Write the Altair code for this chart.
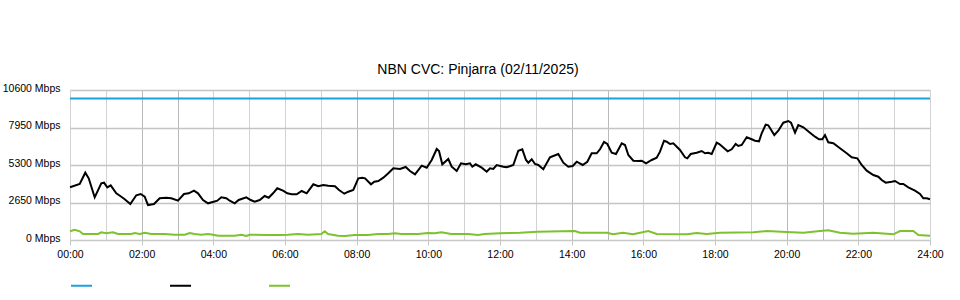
import altair as alt
import pandas as pd

TITLE = "NBN CVC: Pinjarra (02/11/2025)"
SERIES = ["Capacity", "Download", "Upload"]
COLORS = ["#1ea0dc", "#000000", "#7dc22e"]
Y_TICKS = [0, 2650, 5300, 7950, 10600]

capacity_t = [0, 24]
capacity_v = [10000, 10000]

download_t = [0.0, 0.271, 0.427, 0.522, 0.689, 0.873, 0.949, 1.041, 1.136, 1.292,
              1.432, 1.527, 1.683, 1.850, 1.973, 2.085, 2.177, 2.344, 2.503, 2.687,
              2.827, 3.014, 3.181, 3.313, 3.460, 3.572, 3.712, 3.851, 4.010, 4.111,
              4.222, 4.362, 4.457, 4.596, 4.708, 4.920, 5.043, 5.154, 5.294, 5.433,
              5.545, 5.665, 5.785, 5.944, 6.064, 6.187, 6.327, 6.466, 6.606, 6.790,
              6.929, 7.069, 7.208, 7.395, 7.507, 7.655, 7.767, 7.906, 8.046, 8.157,
              8.233, 8.400, 8.492, 8.604, 8.744, 8.883, 9.023, 9.209, 9.368, 9.488,
              9.628, 9.815, 9.954, 10.094, 10.234, 10.298, 10.390, 10.557, 10.652, 10.792,
              10.912, 11.043, 11.163, 11.227, 11.322, 11.489, 11.629, 11.721, 11.813, 11.908,
              12.092, 12.187, 12.371, 12.511, 12.622, 12.726, 12.790, 12.885, 12.977, 13.069,
              13.208, 13.395, 13.487, 13.627, 13.767, 13.906, 14.029, 14.141, 14.308, 14.437,
              14.559, 14.699, 14.791, 14.903, 14.995, 15.117, 15.237, 15.397, 15.489, 15.581,
              15.721, 15.860, 15.955, 16.075, 16.234, 16.373, 16.465, 16.577, 16.652, 16.744,
              16.837, 17.023, 17.163, 17.227, 17.322, 17.489, 17.629, 17.721, 17.813, 17.908,
              18.048, 18.120, 18.354, 18.466, 18.577, 18.650, 18.745, 18.885, 19.024, 19.116,
              19.228, 19.303, 19.415, 19.487, 19.655, 19.767, 19.906, 20.046, 20.121, 20.233,
              20.325, 20.465, 20.651, 20.791, 20.903, 20.995, 21.070, 21.162, 21.302, 21.488,
              21.675, 21.815, 21.971, 22.094, 22.234, 22.418, 22.558, 22.652, 22.764, 22.932,
              23.023, 23.163, 23.255, 23.395, 23.581, 23.721, 23.814, 23.909, 24.0]
download_v = [3724, 3957, 4756, 4360, 3017, 4007, 4049, 3724, 3865, 3300,
              3060, 2876, 2544, 3159, 3251, 3060, 2473, 2544, 2947, 2989,
              2947, 2777, 3251, 3300, 3484, 3300, 2827, 2593, 2707, 2777,
              3017, 2947, 2777, 2593, 2827, 3017, 2827, 2707, 2827, 3109,
              2989, 3300, 3653, 3484, 3300, 3229, 3229, 3463, 3300, 3936,
              3795, 3887, 3837, 3795, 3533, 3272, 3413, 3533, 4360, 4403,
              4360, 3936, 4120, 4169, 4403, 4713, 5067, 5017, 5159, 4876,
              4643, 5251, 5109, 5653, 6431, 6289, 5349, 5724, 5180, 4876,
              5420, 5349, 5420, 5180, 5349, 5109, 4827, 5067, 5017, 5300,
              5180, 5137, 5300, 6311, 6409, 5653, 5463, 5703, 5371, 5300,
              4996, 5844, 5936, 6077, 5463, 5180, 5229, 5533, 5300, 5533,
              6127, 6127, 6409, 6925, 6784, 6169, 6077, 6833, 6713, 6007,
              5604, 5583, 5604, 5420, 5653, 5816, 6240, 7017, 6947, 6784,
              6833, 6360, 5844, 5773, 6077, 6169, 6289, 6127, 6169, 6077,
              6876, 6784, 6268, 6409, 6784, 6643, 6713, 7257, 7116, 7017,
              6975, 7540, 8148, 8105, 7420, 7724, 8289, 8409, 8289, 7583,
              8127, 7964, 7583, 7300, 7116, 7116, 7420, 6904, 6833, 6480,
              6127, 5844, 5773, 5300, 4897, 4593, 4473, 4240, 4049, 4120,
              4169, 3957, 3957, 3724, 3484, 3251, 2947, 2947, 2876]

upload_t = [0.0, 0.131, 0.271, 0.363, 0.781, 0.873, 1.013, 1.2, 1.34, 1.711,
            1.806, 1.945, 2.085, 2.269, 2.643, 2.922, 3.201, 3.341, 3.480, 3.664,
            3.851, 3.991, 4.130, 4.596, 4.781, 4.920, 5.015, 5.526, 5.897, 6.084,
            6.363, 6.642, 7.013, 7.108, 7.2, 7.479, 7.666, 7.945, 8.316, 8.595,
            8.874, 9.062, 9.246, 9.712, 9.991, 10.178, 10.362, 10.641, 11.107, 11.386,
            11.573, 12.0, 12.56, 13.033, 14.093, 14.233, 14.986, 15.154, 15.433, 15.712,
            16.139, 16.373, 17.21, 17.489, 17.768, 18.14, 19.069, 19.443, 20.001, 20.465,
            20.931, 21.162, 21.488, 21.86, 22.418, 22.792, 22.976, 23.163, 23.534, 23.674,
            24.0]
upload_v = [615, 728, 615, 424, 424, 544, 473, 544, 424, 424,
            495, 424, 516, 424, 424, 375, 375, 495, 424, 375,
            424, 375, 304, 304, 375, 283, 375, 353, 353, 375,
            424, 375, 424, 615, 424, 304, 283, 353, 353, 424,
            424, 473, 424, 424, 495, 473, 544, 424, 424, 353,
            424, 473, 516, 587, 636, 516, 516, 403, 516, 403,
            636, 424, 403, 495, 424, 516, 544, 636, 565, 516,
            636, 685, 516, 445, 516, 445, 403, 636, 636, 353,
            304]

rows = []
for name, ts, vs in [(SERIES[0], capacity_t, capacity_v),
                     (SERIES[1], download_t, download_v),
                     (SERIES[2], upload_t, upload_v)]:
    for t, v in zip(ts, vs):
        rows.append({"series": name, "hour": t, "mbps": v})
df = pd.DataFrame(rows)

x_axis = alt.Axis(
    values=list(range(0, 25)),
    labelExpr="datum.value % 2 == 0 ? (datum.value < 10 ? '0' : '') + datum.value + ':00' : ''",
    title=None,
    grid=True,
    gridColor={"expr": "(datum.value % 6 == 2 || datum.value % 6 == 3) ? '#b9b9b9' : '#d2d2d2'"},
    gridWidth=1,
    tickColor="#c4c4c4",
    tickOpacity={"expr": "datum.value % 2 == 0 ? 1 : 0"},
    tickSize=5,
    domainColor="#c8c8c8",
    domainWidth=1,
    labelFontSize=10.5,
    labelColor="#000000",
    labelPadding=4,
    labelFlush=False,
    labelOverlap=False,
)

y_axis = alt.Axis(
    values=Y_TICKS,
    labelExpr="datum.value + ' Mbps'",
    title=None,
    grid=True,
    gridColor="#c4c4c4",
    gridWidth=1.5,
    ticks=False,
    domain=False,
    labelFontSize=10.5,
    labelColor="#000000",
    labelPadding=10,
    labelOffset=-2,
)

chart = alt.Chart(df).mark_line(strokeWidth=2, interpolate="linear").encode(
    x=alt.X("hour:Q", scale=alt.Scale(domain=[0, 24], nice=False, zero=False), axis=x_axis),
    y=alt.Y("mbps:Q", scale=alt.Scale(domain=[0, 10600], nice=False), axis=y_axis),
    color=alt.Color(
        "series:N",
        scale=alt.Scale(domain=SERIES, range=COLORS),
        legend=alt.Legend(
            orient="none",
            legendX=0,
            legendY=184,
            direction="horizontal",
            title=None,
            symbolType="stroke",
            symbolSize=441,
            symbolStrokeWidth=2,
            labelExpr="''",
            labelOffset=0,
            columnPadding=70,
            padding=0,
        ),
    ),
    detail="series:N",
).properties(
    width=860,
    height=150,
    title=alt.TitleParams(
        TITLE, fontSize=14, fontWeight="normal", color="#000000",
        anchor="middle", dx=-22, offset=6,
    ),
    autosize=alt.AutoSizeParams(type="none"),
    padding={"left": 70, "top": 90, "right": 30, "bottom": 60},
).configure(
    font="Liberation Sans",
).configure_view(
    stroke=None,
).configure_axis(
    labelFont="Liberation Sans",
)

chart.save("out.html", embed_options={"renderer": "svg", "actions": False})
